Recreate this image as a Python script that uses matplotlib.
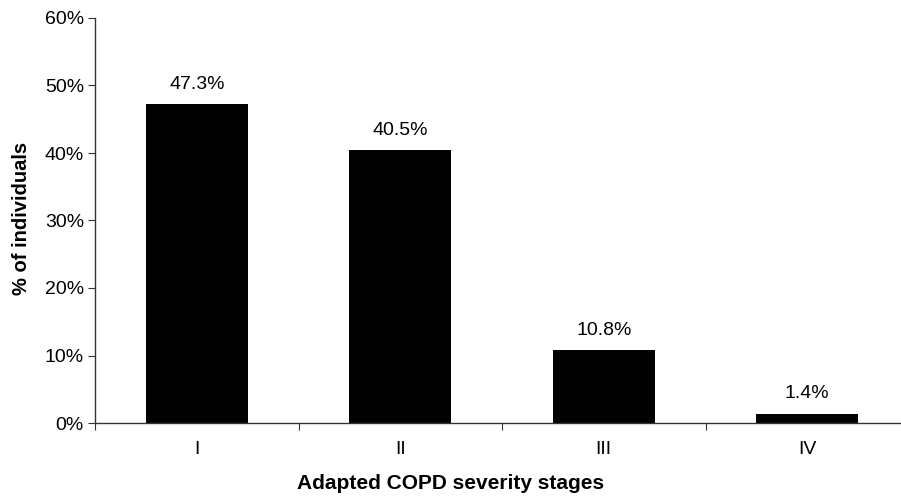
import matplotlib
matplotlib.use("Agg")
import matplotlib.pyplot as plt
from matplotlib.ticker import FixedLocator

categories = ["I", "II", "III", "IV"]
values = [47.3, 40.5, 10.8, 1.4]
yticks = [0, 10, 20, 30, 40, 50, 60]
ytick_labels = ["0%", "10%", "20%", "30%", "40%", "50%", "60%"]

plt.rcParams['font.family'] = ['Liberation Sans', 'DejaVu Sans']

W, H = 901, 498
fig = plt.figure(figsize=(W / 100, H / 100), dpi=100)
ax = fig.add_axes([95 / W, 75 / H, 814 / W, 405 / H])

x = list(range(len(categories)))
ax.bar(x, values, width=0.5, color='black', zorder=2)
for xi, v in zip(x, values):
    ax.annotate(f"{v:.1f}%", (xi, v), xytext=(0, 8), textcoords='offset points',
                ha='center', va='bottom', fontsize=14)

ax.set_xlim(-0.5, len(categories) - 0.5)
ax.set_ylim(0, 60)
ax.set_yticks(yticks)
ax.set_yticklabels(ytick_labels, fontsize=14)

ax.xaxis.set_major_locator(FixedLocator([i + 0.5 for i in range(-1, len(categories))]))
ax.xaxis.set_major_formatter(plt.NullFormatter())
ax.xaxis.set_minor_locator(FixedLocator(x))
ax.set_xticklabels(categories, minor=True, fontsize=14)
ax.tick_params(axis='x', which='minor', length=0, pad=13)
ax.tick_params(axis='x', which='major', length=5, direction='out', color='#333333')
ax.tick_params(axis='y', length=5, direction='out', color='#333333', pad=3)

for s in ['top', 'right']:
    ax.spines[s].set_visible(False)
for s in ['left', 'bottom']:
    ax.spines[s].set_color('#333333')
    ax.spines[s].set_linewidth(1.0)

fig.text(451 / W, 1 - 483 / H, "Adapted COPD severity stages", fontsize=15,
         fontweight='bold', ha='center', va='center')
fig.text(22 / W, 1 - 218 / H, "% of individuals", fontsize=14.5,
         fontweight='bold', ha='center', va='center', rotation=90)

fig.savefig("out.png", dpi=100)
